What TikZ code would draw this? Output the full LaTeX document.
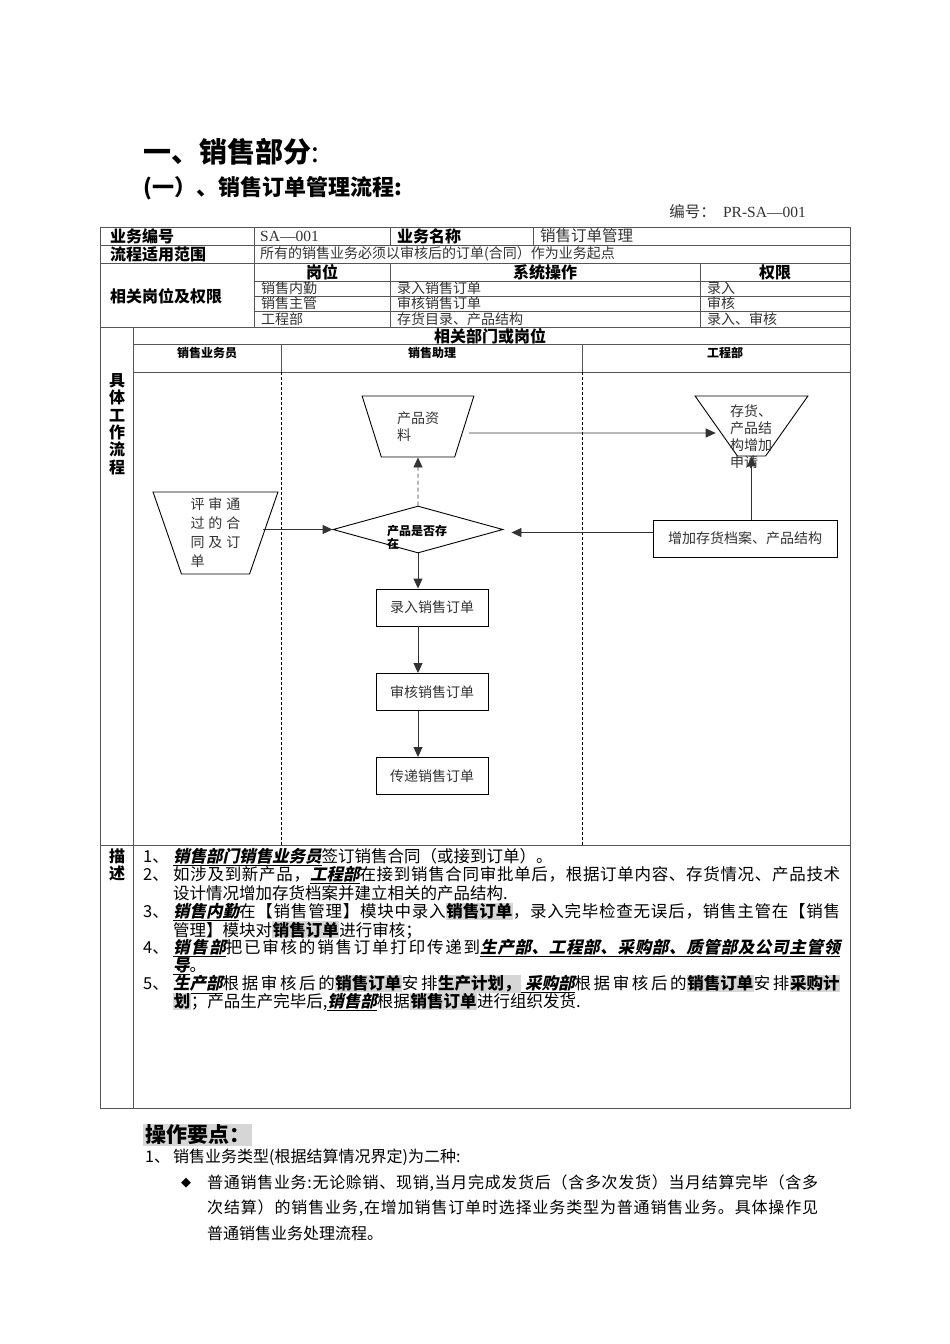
\documentclass[tikz,border=0pt]{standalone}
\usepackage{fontspec}
\setmainfont{Noto Sans CJK SC}
\newfontfamily\slantfam{Noto Sans CJK SC}[FakeSlant=0.22]
\newfontfamily\serifL{Liberation Serif}
\newfontfamily\symfont{DejaVu Sans}
\usepackage{xcolor}
\usetikzlibrary{arrows.meta, shapes.geometric, positioning}

% stretchable glue between Chinese characters, for justified lines
\newXeTeXintercharclass\hanclass
\makeatletter
\def\sethan#1#2{\count@=#1\relax\loop\XeTeXcharclass\count@=\hanclass\relax\ifnum\count@<#2\relax\advance\count@\@ne\repeat}
\makeatother
\sethan{"3000}{"303F}
\sethan{"4E00}{"9FFF}
\sethan{"FF00}{"FFEF}
\XeTeXinterchartoks\hanclass\hanclass={\hskip0pt plus 1pt\relax}
\XeTeXinterchartoks\hanclass 0={\hskip0pt plus 1pt\relax}
\XeTeXinterchartoks 0\hanclass={\hskip0pt plus 1pt\relax}
\newcommand{\justline}[2]{\makebox[#1][s]{\XeTeXinterchartokenstate=1 #2}}

\definecolor{linegray}{HTML}{555555}
\definecolor{txtgray}{HTML}{333333}
\definecolor{hlgray}{HTML}{D6D6D6}

\newcommand{\biu}[1]{\underline{{\slantfam\bfseries #1}}}
\newcommand{\biuw}[2]{\underline{\makebox[#1][s]{\XeTeXinterchartokenstate=1 \slantfam\bfseries #2}}}
\newcommand{\hl}[1]{{\setlength{\fboxsep}{0.6pt}\colorbox{hlgray}{\textbf{#1}}}}

\begin{document}
\begin{tikzpicture}[x=1pt, y=-1pt,
    grid/.style={draw=linegray, line width=0.8pt},
    lanesep/.style={draw=black, line width=0.9pt, dash pattern=on 3pt off 2pt},
    head/.style={font=\fontsize{16}{18}\selectfont\bfseries, inner sep=0pt},
    cell/.style={font=\fontsize{14}{16}\selectfont, text=txtgray, anchor=west, inner sep=0pt},
    lane/.style={font=\fontsize{12}{14}\selectfont\bfseries, inner sep=0pt},
    flowtxt/.style={font=\fontsize{14}{17}\selectfont, text=txtgray, inner sep=0pt},
    box/.style={draw, rectangle, minimum width=112pt, minimum height=37pt, line width=0.9pt,
        font=\fontsize{14}{16}\selectfont, text=txtgray},
    doc/.style={draw, trapezium, trapezium stretches=true, shape border rotate=180,
        line width=0.9pt, inner sep=2pt, align=left},
    arr/.style={-{Triangle[length=10pt,width=9pt]}, line width=0.9pt, draw=black!80},
    desc/.style={font=\fontsize{16.5}{18}\selectfont, anchor=west, inner sep=0pt},
  ]
    \useasboundingbox[fill=white] (0,0) rectangle (950,1344);

    % Titles
    \node[anchor=west, inner sep=0pt, font=\fontsize{28}{30}\selectfont\bfseries] (t1) at (143,152) {一、销售部分\mdseries:};
    \node[anchor=west, inner sep=0pt, font=\fontsize{22}{24}\selectfont\bfseries] (t2) at (143,188) {(一）、销售订单管理流程:};
    \node[cell, anchor=east, font=\fontsize{15.5}{17}\selectfont] (code) at (806,212) {编号：\ {\serifL\ PR-SA—001}};

    % Table frame
    \draw[grid] (100,227) rectangle (850,1108);
    \foreach \y in {245,263,327,845} \draw[grid] (100,\y) -- (850,\y);
    \foreach \y in {281,296,311} \draw[grid] (254,\y) -- (850,\y);
    \foreach \y in {344,372} \draw[grid] (133,\y) -- (850,\y);
    \draw[grid] (254,227) -- (254,327);
    \draw[grid] (390,227) -- (390,245) (390,263) -- (390,327);
    \draw[grid] (533,227) -- (533,245);
    \draw[grid] (700,263) -- (700,327);
    \draw[grid] (133,327) -- (133,1108);
    \foreach \x in {281,582} {
        \draw[grid] (\x,344) -- (\x,372);
        \draw[lanesep] (\x,372) -- (\x,845);
    }

    % Table texts
    \node[head, anchor=west] (h1) at (110,236) {业务编号};
    \node[cell, font=\fontsize{15.5}{17}\selectfont\serifL] (no) at (260,236) {SA—001};
    \node[head, anchor=west] (h2) at (397,236) {业务名称};
    \node[cell, font=\fontsize{15.5}{17}\selectfont] (name) at (540,236) {销售订单管理};
    \node[head, anchor=west] (h3) at (110,254) {流程适用范围};
    \node[cell] (scope) at (260,254) {所有的销售业务必须以审核后的订单(合同）作为业务起点};
    \node[head, anchor=west] (h4) at (110,296) {相关岗位及权限};
    \node[head] (c1) at (322,272) {岗位};
    \node[head] (c2) at (545,272) {系统操作};
    \node[head] (c3) at (775,272) {权限};
    \node[cell] (r1a) at (261,288) {销售内勤};
    \node[cell] (r1b) at (397,288) {录入销售订单};
    \node[cell] (r1c) at (707,288) {录入};
    \node[cell] (r2a) at (261,303) {销售主管};
    \node[cell] (r2b) at (397,303) {审核销售订单};
    \node[cell] (r2c) at (707,303) {审核};
    \node[cell] (r3a) at (261,319) {工程部};
    \node[cell] (r3b) at (397,319) {存货目录、产品结构};
    \node[cell] (r3c) at (707,319) {录入、审核};

    % Lanes
    \node[head] (dept) at (490,336) {相关部门或岗位};
    \node[lane] (l1) at (207,353) {销售业务员};
    \node[lane] (l2) at (432,353) {销售助理};
    \node[lane] (l3) at (725,353) {工程部};
    \node[head, align=center, font=\fontsize{16}{17.4}\selectfont\bfseries] (flowlbl) at (117,424) {具\\体\\工\\作\\流\\程};
    \node[head, align=center, font=\fontsize{16}{17.4}\selectfont\bfseries] (desclbl) at (117,865) {描\\述};

    % Flow
    \node[doc, minimum width=112pt, minimum height=61pt, trapezium angle=69.8, flowtxt, align=left] (info) at (418,426.5) {产品资\\料};
    \node[doc, minimum width=125pt, minimum height=82pt, trapezium angle=73.4, flowtxt, align=left,
        font=\fontsize{14}{19}\selectfont] (contract) at (215.5,533) {评\hspace{4pt}审\hspace{4pt}通\\过\hspace{4pt}的\hspace{4pt}合\\同\hspace{4pt}及\hspace{4pt}订\\单};
    \node[doc, minimum width=113pt, minimum height=60pt, trapezium angle=69.4] (apply) at (751.5,426) {\strut};
    \node[flowtxt, align=left, anchor=north west] (applytxt) at (730,404) {存货、\\产品结\\构增加\\申请};
    \node[draw, diamond, minimum width=170pt, minimum height=47pt, inner sep=1pt, line width=0.9pt] (dia) at (418,529.5) {};
    \node[inner sep=0pt, align=left, font=\fontsize{12}{13}\selectfont\bfseries] (dialbl) at (417,537.5) {产品是否存\\在};
    \node[box] (enter) at (432,607.5) {录入销售订单};
    \node[box] (audit) at (432,692) {审核销售订单};
    \node[box] (pass) at (432,776) {传递销售订单};
    \node[box, minimum width=184pt] (addbox) at (745,538.5) {增加存货档案、产品结构};

    \coordinate (cstart) at ([xshift=47.5pt]contract.center);
    \draw[arr] (cstart |- dia.west) -- (dia.west);
    \draw[arr, dash pattern=on 4pt off 3pt] (dia.north) -- (info.south);
    \draw[arr] ([shift={(4pt,-6.5pt)}]info.east) -- ([yshift=-7pt]apply.west);
    \draw[arr] (addbox.north -| apply.south) -- (apply.south);
    \draw[arr] ([yshift=6pt]addbox.west) -- ([xshift=8pt,yshift=-3pt]dia.east);
    \draw[arr] (dia.south) -- (dia.south |- enter.north);
    \draw[arr] (dia.south |- enter.south) -- (dia.south |- audit.north);
    \draw[arr] (dia.south |- audit.south) -- (dia.south |- pass.north);

    % Description
    \foreach \n/\y in {1/857,2/875,3/912,4/948,5/984}
        \node[desc] (n\n) at (143,\y) {\n、};
    \node[desc] (d1) at (173,857) {\biu{销售部门销售业务员}签订销售合同（或接到订单）。};
    \node[desc] (d2) at (173,875) {\justline{667pt}{如涉及到新产品，\biu{工程部}在接到销售合同审批单后，根据订单内容、存货情况、产品技术}};
    \node[desc] (d3) at (173,893) {设计情况增加存货档案并建立相关的产品结构.};
    \node[desc] (d4) at (173,912) {\justline{667pt}{\biu{销售内勤}在【销售管理】模块中录入\hl{销售订单}，录入完毕检查无误后，销售主管在【销售}};
    \node[desc] (d5) at (173,930) {管理】模块对\hl{销售订单}进行审核；};
    \node[desc] (d6) at (173,948) {\justline{667pt}{\biuw{52.6pt}{销售部}把已审核的销售订单打印传递到\biuw{360pt}{生产部、工程部、采购部、质管部及公司主管领}}};
    \node[desc] (d7) at (173,966) {\biu{导}。};
    \node[desc] (d8) at (173,984) {\justline{667pt}{\biu{生产部}根据审核后的\hl{销售订单}安排\hl{生产计划，}\biu{\ 采购部}根据审核后的\hl{销售订单}安排\hl{采购计}}};
    \node[desc] (d9) at (173,1002) {\hl{划}；产品生产完毕后,\biu{销售部}根据\hl{销售订单}进行组织发货.};

    % Key points
    \node[anchor=west, fill=hlgray, inner xsep=2pt, inner ysep=1pt, font=\fontsize{21}{23}\selectfont\bfseries] (keys) at (143,1135) {操作要点：};
    \node[desc, font=\fontsize{16}{18}\selectfont] (k1n) at (145,1157) {1、};
    \node[desc, font=\fontsize{16}{18}\selectfont] (k1) at (173,1157) {销售业务类型(根据结算情况界定)为二种:};
    \node[desc, font=\fontsize{13}{15}\selectfont\symfont] (bullet) at (181,1183) {◆};
    \node[desc, font=\fontsize{16}{18}\selectfont] (k2) at (207,1183) {\justline{611pt}{普通销售业务:无论赊销、现销,当月完成发货后（含多次发货）当月结算完毕（含多}};
    \node[desc, font=\fontsize{16}{18}\selectfont] (k3) at (207,1208) {\justline{611pt}{次结算）的销售业务,在增加销售订单时选择业务类型为普通销售业务。具体操作见}};
    \node[desc, font=\fontsize{16}{18}\selectfont] (k4) at (207,1233) {普通销售业务处理流程。};
\end{tikzpicture}
\end{document}
